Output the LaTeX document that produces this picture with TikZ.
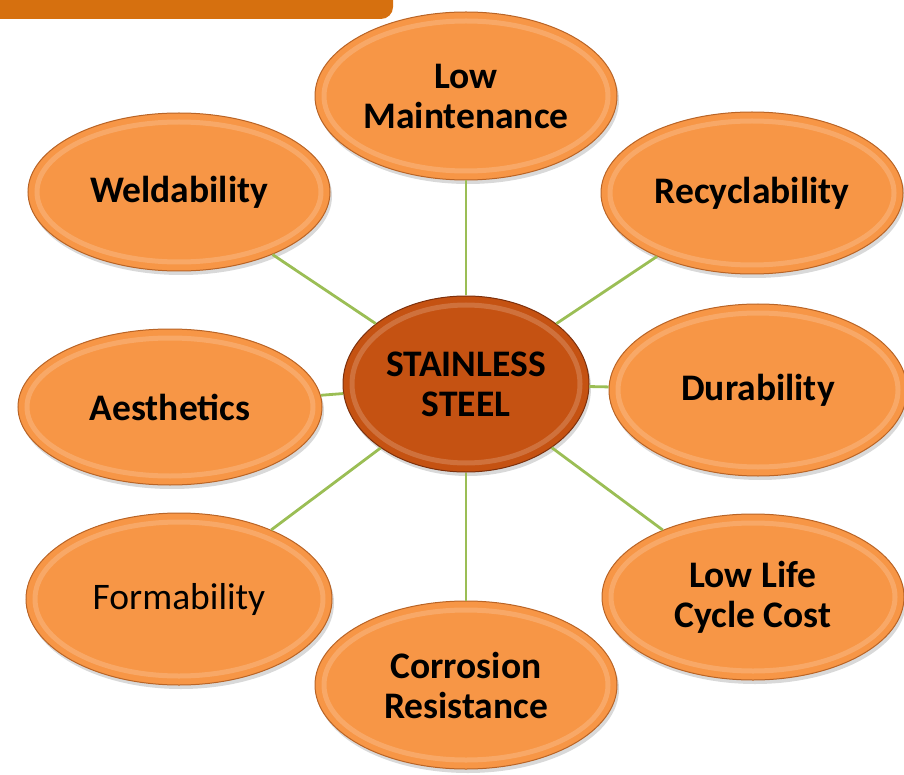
\documentclass[tikz,border=0pt]{standalone}
\usepackage{fontspec}
\setmainfont{Carlito}
\usetikzlibrary{shapes.geometric, positioning, shadows, calc}
\definecolor{barorange}{RGB}{214,112,15}
\definecolor{petalfill}{RGB}{247,150,70}
\definecolor{petaledge}{RGB}{185,100,38}
\definecolor{hubfill}{RGB}{197,82,18}
\definecolor{hubedge}{RGB}{125,48,12}
\definecolor{spokegreen}{RGB}{155,190,85}
\tikzstyle{bevel} = [path picture={\draw[white, opacity=0.18, line width=5pt] let \p1=($(path picture bounding box.north east)-(path picture bounding box.center)$) in (path picture bounding box.center) ellipse [x radius=\x1-9pt, y radius=\y1-9pt];}]
\tikzstyle{petal} = [ellipse, minimum width=302pt, minimum height=162pt, inner sep=0pt, align=center, fill=petalfill, draw=petaledge, line width=1pt, drop shadow={shadow xshift=2pt, shadow yshift=-4pt, opacity=0.3}, bevel, font=\fontsize{37.5}{40}\selectfont\bfseries]
\tikzstyle{hub} = [petal, minimum width=246pt, minimum height=176pt, fill=hubfill, draw=hubedge]
\tikzstyle{spoke} = [spokegreen, line width=2.8pt]

\begin{document}
\begin{tikzpicture}[x=1pt, y=-1pt]
  \useasboundingbox (0,0) rectangle (904,775);
  \fill[barorange] (0,0) -- (393,0) [rounded corners=12pt] -- (393,19) [sharp corners] -- (0,19) -- cycle;

  \node (steel) [hub] at (466,384) {STAINLESS\\STEEL};
  \node (maint) [petal, minimum height=168pt] at (466,96) {Low\\Maintenance};
  \node (weld) [petal, minimum height=158pt] at (179,192) {Weldability};
  \node (recycle) [petal] at (752,193) {Recyclability};
  \node (aesth) [petal, minimum width=304pt, minimum height=156pt] at (170,407) {Aesthetics};
  \node (durab) [petal, minimum width=298pt, minimum height=172pt] at (758,390) {Durability};
  \node (form) [petal, minimum width=306pt, minimum height=172pt, font=\fontsize{37.5}{40}\selectfont] at (179,599) {Formability};
  \node (cost) [petal, minimum height=166pt] at (753,597) {Low Life\\Cycle Cost};
  \node (corr) [petal, minimum height=168pt] at (466,685) {Corrosion\\Resistance};

  \draw [spoke] (steel) -- (maint);
  \draw [spoke] (steel) -- (weld);
  \draw [spoke] (steel) -- (recycle);
  \draw [spoke] (steel) -- (aesth);
  \draw [spoke] (steel) -- (durab);
  \draw [spoke] (steel) -- (form);
  \draw [spoke] (steel) -- (cost);
  \draw [spoke] (steel) -- (corr);
\end{tikzpicture}
\end{document}
